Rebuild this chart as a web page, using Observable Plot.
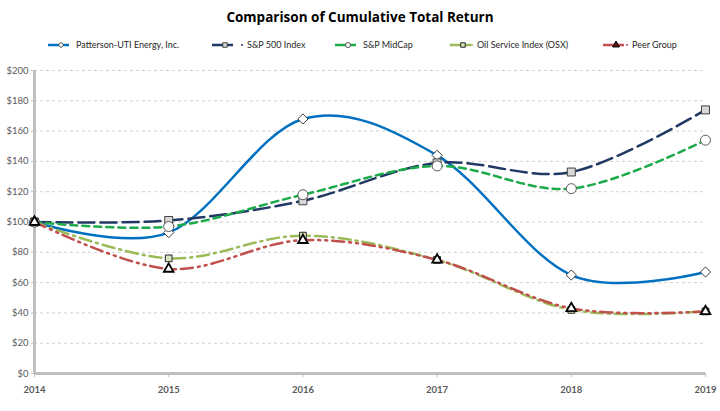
<!DOCTYPE html>
<html>
<head>
<meta charset="utf-8">
<script src="https://cdn.jsdelivr.net/npm/d3@7"></script>
<script src="https://cdn.jsdelivr.net/npm/@observablehq/plot@0.6"></script>
<style>
  body { margin: 0; background: #fff; width: 720px; height: 411px; overflow: hidden; font-family: Lato, "Open Sans", sans-serif; }
  #title { height: 32px; line-height: 34px; text-align: center; font-family: "Open Sans", sans-serif; font-weight: bold; font-size: 13.5px; color: #000; }
  #legend { height: 28px; display: block; }
</style>
</head>
<body>
<div id="title">Comparison of Cumulative Total Return</div>
<svg id="legend" width="720" height="28"></svg>
<div id="chart"></div>
<script>
const years = [2014, 2015, 2016, 2017, 2018, 2019];
const patterson = [100, 93, 168, 144, 65, 67];
const sp500 = [100, 101, 114, 139, 133, 174];
const midcap = [100, 97, 118, 137, 122, 154];
const osx = [100, 76, 91, 75, 42, 41];
const peer = [100, 69, 88, 75, 43, 41];
const yTicks = [0, 20, 40, 60, 80, 100, 120, 140, 160, 180, 200];

const series = [
  {name: "Patterson-UTI Energy, Inc.", values: patterson, color: "#0070C0", dash: null, width: 2.5,
   symbol: "diamond2", fill: "#ffffff", mstroke: "#404040", r: 4.6, sw: 1, lx: 48, tx: 76},
  {name: "S&P 500 Index", values: sp500, color: "#1F3864", dash: "16,6", width: 2.5,
   symbol: "square", fill: "#d9d9d9", mstroke: "#404040", r: 4.5, sw: 1, lx: 212, tx: 247, bullet: true},
  {name: "S&P MidCap", values: midcap, color: "#1DAA4B", dash: "7,5", width: 2.5,
   symbol: "circle", fill: "#ffffff", mstroke: "#595959", r: 5, sw: 1, lx: 335, tx: 363},
  {name: "Oil Service Index (OSX)", values: osx, color: "#9BBB59", dash: "12,5,2,5", width: 2.5,
   symbol: "square", fill: "#d7e4bd", mstroke: "#262626", r: 3.8, sw: 1, lx: 450, tx: 477, bullet: true},
  {name: "Peer Group", values: peer, color: "#C0504D", dash: "12,5,2,5,2,5", width: 2.5,
   symbol: "triangle", fill: "#ffffff", mstroke: "#000000", r: 3.6, sw: 1.8, lx: 603, tx: 632, bullet: true}
];

const rows = s => years.map((y, i) => ({year: y, value: s.values[i]}));

const marks = [
  Plot.ruleY(yTicks.filter(d => d > 0), {stroke: "#d0d0d0", strokeDasharray: "3,3", strokeWidth: 1}),
  Plot.axisY({ticks: yTicks, tickFormat: d => "$" + d, tickSize: 3, tickPadding: 3, stroke: "#bfbfbf",
    fontSize: 9.5, fill: "#595959", label: null}),
  Plot.axisX({ticks: years, tickFormat: d => String(d), tickSize: 4, tickPadding: 9, stroke: "#bfbfbf",
    fontSize: 9.5, fontWeight: "bold", fill: "#595959", label: null}),
  Plot.ruleX([2014], {stroke: "#bfbfbf", strokeWidth: 3}),
  Plot.ruleY([0], {stroke: "#bfbfbf", strokeWidth: 3})
];
for (const s of series) {
  marks.push(Plot.line(rows(s), {x: "year", y: "value", stroke: s.color, strokeWidth: s.width,
    strokeDasharray: s.dash, curve: "cardinal", tension: 0}));
}
for (const s of series) {
  marks.push(Plot.dot(rows(s), {x: "year", y: "value", symbol: () => s.symbol, r: s.r, fill: s.fill,
    stroke: s.mstroke, strokeWidth: s.sw}));
}

const chart = Plot.plot({
  width: 720, height: 351,
  marginLeft: 34, marginRight: 15, marginTop: 10, marginBottom: 38,
  x: {domain: [2014, 2019]},
  y: {domain: [0, 200]},
  symbol: {type: "identity"},
  style: {fontFamily: "Lato, sans-serif", background: "#fff", overflow: "visible"},
  marks
});
document.getElementById("chart").append(chart);

// legend
const lg = d3.select("#legend");
const cy = 13;
for (const s of series) {
  lg.append("line").attr("x1", s.lx).attr("x2", s.lx + 21).attr("y1", cy).attr("y2", cy)
    .attr("stroke", s.color).attr("stroke-width", 2.5);
  const sym = {diamond2: d3.symbolDiamond2, square: d3.symbolSquare, circle: d3.symbolCircle, triangle: d3.symbolTriangle}[s.symbol];
  const size = s.symbol === "diamond2" ? 18 : 20;
  const isTri = s.symbol === "triangle";
  lg.append("path").attr("d", d3.symbol(sym, size)()).attr("transform", `translate(${s.lx + 13},${cy})`)
    .attr("fill", isTri ? "#5a1a18" : s.fill).attr("stroke", s.mstroke).attr("stroke-width", 1);
  if (s.bullet) {
    lg.append("circle").attr("cx", s.tx - 5).attr("cy", cy).attr("r", 1).attr("fill", s.color);
  }
  lg.append("text").attr("x", s.tx).attr("y", cy).attr("dy", "0.35em")
    .attr("font-size", 9).attr("font-family", "Lato, sans-serif").attr("fill", "#262626").text(s.name);
}
</script>
</body>
</html>
